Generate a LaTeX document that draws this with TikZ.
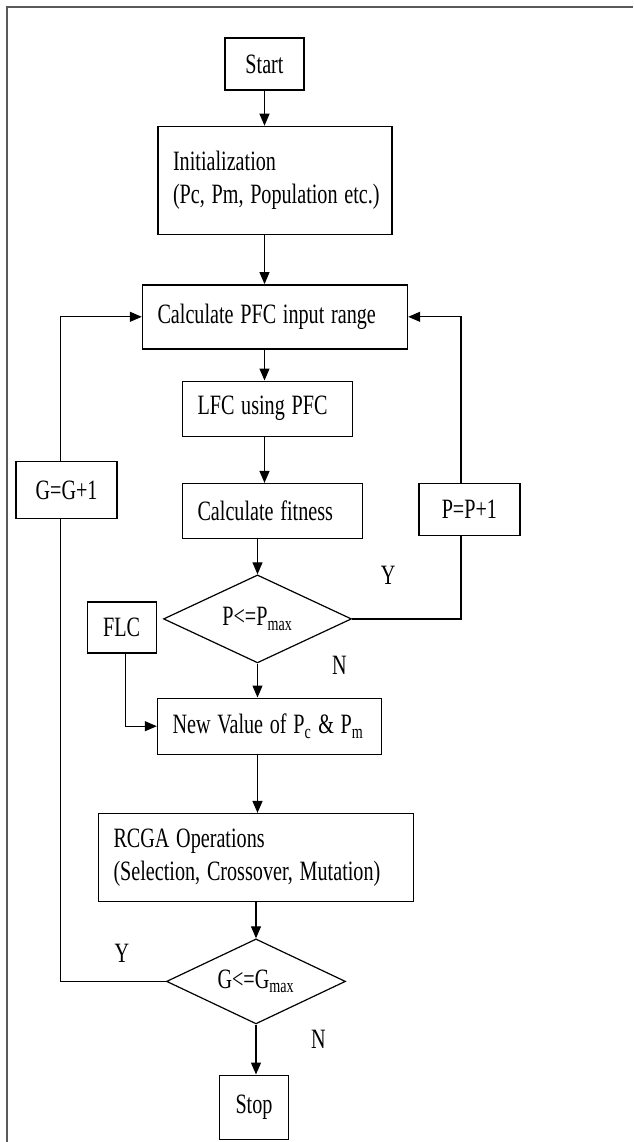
\documentclass[tikz,border=0pt]{standalone}
\usepackage{fontspec}
\usepackage{graphicx}
\setmainfont{Liberation Serif}
\usetikzlibrary{positioning,arrows.meta,shapes.geometric}
% narrow, tall lettering as in the scanned chart
\newcommand\sq[1]{\scalebox{0.72}[1]{#1}}

\begin{document}
\begin{tikzpicture}[
        every node/.style={font=\fontsize{14}{16.5}\selectfont},
        block/.style={draw, line width=0.7pt, inner sep=0pt},
        textblock/.style={block, align=left, inner xsep=7.5pt, text width=#1},
        decision/.style={draw, line width=0.6pt, diamond, aspect=2.1, inner sep=0pt},
        arrow/.style={-{Triangle[length=6pt, width=5pt]}, line width=0.6pt},
        link/.style={line width=0.6pt},
        lbl/.style={inner sep=0pt}
    ]
        \useasboundingbox (0,0) rectangle (316.5pt,-571pt);
        % frame (cropped at right and bottom)
        \draw[gray!70!black, line width=1pt] (316.5pt,-3.5pt) -- (3.5pt,-3.5pt) -- (3.5pt,-571pt);

        % Main column
        \node[block, minimum width=39.5pt, minimum height=26pt] (start) at (132.25pt,-32pt) {\sq{Start}};
        \node[textblock=102pt, minimum height=54pt, below=17.5pt of start, xshift=5.25pt] (init)
            {\sq{Initialization}\\\sq{(Pc, Pm, Population etc.)}\\[6pt]};
        \node[textblock=117.5pt, minimum height=32pt, below=24.5pt of init] (calc) {\sq{Calculate PFC input range}};
        \node[textblock=70pt, minimum height=27.5pt, below=15.5pt of calc, xshift=-3.75pt] (lfc) {\sq{LFC using PFC}};
        \node[textblock=75pt, minimum height=27.5pt, below=23pt of lfc, xshift=2.5pt] (fit) {\sq{Calculate fitness}};
        \node[decision, minimum width=94pt, minimum height=44pt, below=17.5pt of fit, xshift=-7.5pt] (dP)
            {\sq{P<=P\textsubscript{max}}};
        \node[textblock=97pt, minimum height=28pt, below=17pt of dP, xshift=6pt] (newv)
            {\sq{New Value of P\textsubscript{c} \& P\textsubscript{m}}};
        \node[textblock=142.5pt, minimum height=44pt, below=29pt of newv, xshift=-6.75pt] (rcga)
            {\sq{RCGA Operations}\\\sq{(Selection, Crossover, Mutation)}};
        \node[decision, minimum width=89.5pt, minimum height=42.5pt, below=18pt of rcga] (dG)
            {\sq{G<=G\textsubscript{max}}};
        \node[block, minimum width=34.5pt, minimum height=32pt, below=25pt of dG, xshift=-1pt] (stop) {\sq{Stop}};

        % Side boxes
        \node[block, minimum width=50.5pt, minimum height=28.5pt, left=32pt of fit, yshift=10.5pt] (gg) {\sq{G=G+1}};
        \node[block, minimum width=50.5pt, minimum height=26pt, right=27.5pt of fit, yshift=0.75pt] (pp) {\sq{P=P+1}};
        \node[block, minimum width=34.5pt, minimum height=25.5pt, left=3pt of dP, yshift=-4.25pt] (flc) {\sq{FLC}};

        % Y / N labels
        \node[lbl] (yP) at ([xshift=18pt, yshift=22pt]dP.east) {\sq{Y}};
        \node[lbl] (nP) at ([xshift=41pt, yshift=-1pt]dP.south) {\sq{N}};
        \node[lbl] (yG) at ([xshift=-22pt, yshift=14pt]dG.west) {\sq{Y}};
        \node[lbl] (nG) at ([xshift=31.25pt, yshift=-7.5pt]dG.south) {\sq{N}};

        % Arrows down the main column
        \draw[arrow] (start) -- (start |- init.north);
        \draw[arrow] (init.south -| start) -- (calc.north -| start);
        \draw[arrow] (calc.south -| start) -- (lfc.north -| start);
        \draw[arrow] (lfc.south -| start) -- (fit.north -| start);
        \draw[arrow] (fit.south -| dP) -- (dP.north);
        \draw[arrow] (dP.south) -- (dP.south |- newv.north);
        \draw[arrow] (newv.south -| dP) -- (rcga.north -| dP);
        \draw[arrow] (rcga.south -| dG) -- (dG.north);
        \draw[arrow] (dG.south) -- (dG.south |- stop.north);

        % Loops
        \draw[link] (dP.east) -| ([xshift=-4.25pt]pp.south);
        \draw[arrow] ([xshift=-4.25pt]pp.north) |- (calc.east);
        \draw[link] (dG.west) -| ([xshift=-3pt]gg.south);
        \draw[arrow] ([xshift=-3pt]gg.north) |- (calc.west);
        \draw[arrow] ([xshift=1.75pt]flc.south) |- (newv.west);
    \end{tikzpicture}
\end{document}
